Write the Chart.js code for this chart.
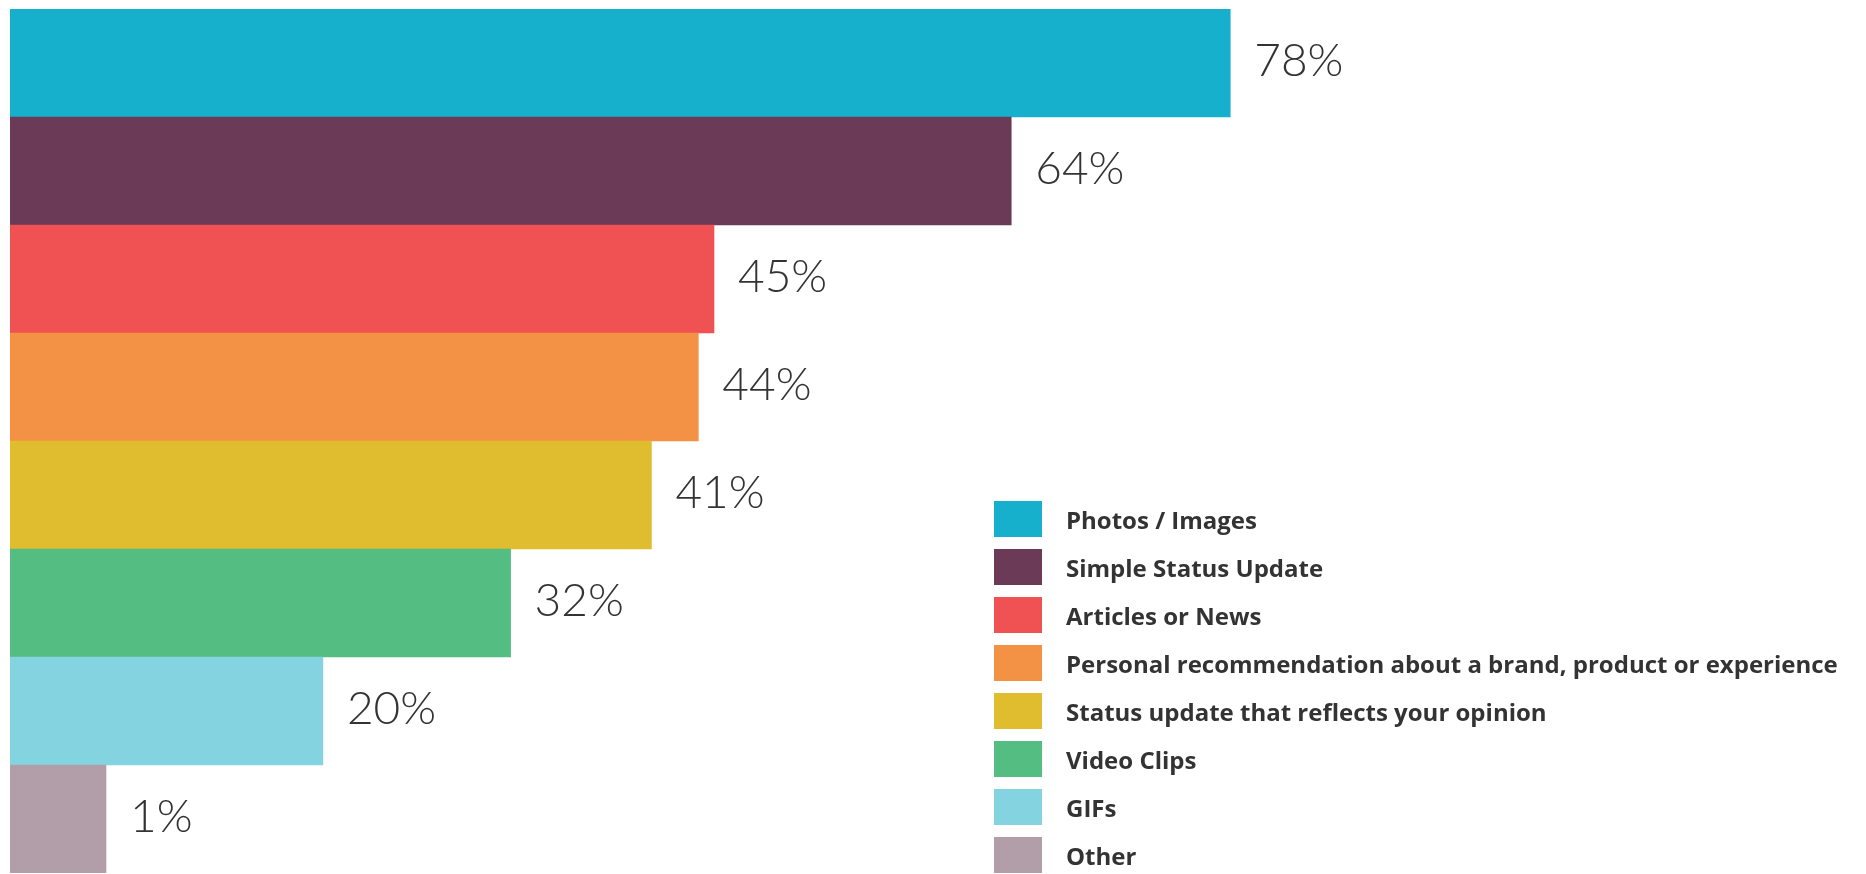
<!DOCTYPE html>
<html>
<head>
<meta charset="utf-8">
<title>Content types shared</title>
<script src="https://cdn.jsdelivr.net/npm/chart.js@4.4.1/dist/chart.umd.min.js"></script>
<style>
    html, body { margin: 0; padding: 0; background: #fff; }
    #wrap { position: relative; width: 1866px; height: 874px; }
    #legend {
        position: absolute; left: 994px; top: 495px;
        font-family: "Open Sans", Lato, sans-serif; font-weight: 700;
        font-size: 24px; color: #333;
    }
    #legend .row { display: flex; align-items: center; height: 48px; }
    #legend .box { width: 48px; height: 36px; margin-right: 24px; flex: none; }
    #legend span { white-space: nowrap; }
</style>
</head>
<body>
<div id="wrap">
    <canvas id="shareChart" width="1866" height="874"></canvas>
    <div id="legend"></div>
</div>
<script>
// --- data ---
const categories = [
    'Photos / Images',
    'Simple Status Update',
    'Articles or News',
    'Personal recommendation about a brand, product or experience',
    'Status update that reflects your opinion',
    'Video Clips',
    'GIFs',
    'Other'
];
const shareValues = [78, 64, 45, 44, 41, 32, 20, 1];
const barColors = ['#17b0cc', '#6a3a57', '#f05152', '#f39245', '#dfbd2e', '#53bd82', '#84d3e0', '#b19ea9'];

// percent labels at the end of each bar
const valueLabels = {
    id: 'valueLabels',
    afterDatasetsDraw(chart) {
        const ctx = chart.ctx;
        const meta = chart.getDatasetMeta(0);
        ctx.save();
        ctx.font = '300 46px Lato, "Open Sans", sans-serif';
        ctx.fillStyle = '#333';
        ctx.textAlign = 'left';
        ctx.textBaseline = 'middle';
        meta.data.forEach((bar, i) => {
            ctx.fillText(shareValues[i] + '%', bar.x + 24, bar.y - 2);
        });
        ctx.restore();
    }
};

new Chart(document.getElementById('shareChart'), {
    type: 'bar',
    data: {
        labels: categories,
        datasets: [{
            data: shareValues,
            backgroundColor: barColors,
            borderWidth: 0,
            barPercentage: 1,
            categoryPercentage: 1,
            minBarLength: 96
        }]
    },
    options: {
        indexAxis: 'y',
        responsive: false,
        animation: false,
        layout: { padding: { left: 10, right: 10, top: 9, bottom: 1 } },
        plugins: { legend: { display: false }, tooltip: { enabled: false } },
        scales: {
            x: { display: false, min: 0, max: 118 },
            y: { display: false }
        }
    },
    plugins: [valueLabels]
});

// legend list on the right
const legendEl = document.getElementById('legend');
categories.forEach((name, i) => {
    const row = document.createElement('div');
    row.className = 'row';
    row.innerHTML = '<div class="box" style="background:' + barColors[i] + '"></div><span>' + name + '</span>';
    legendEl.appendChild(row);
});
</script>
</body>
</html>
